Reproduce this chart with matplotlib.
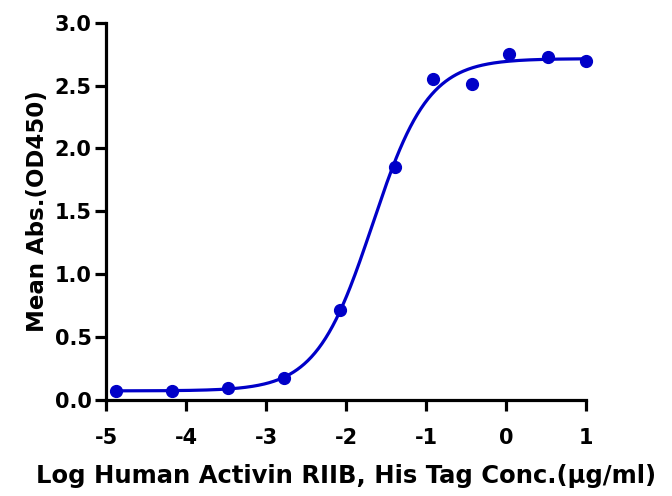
import numpy as np
import matplotlib
matplotlib.use("Agg")
import matplotlib.pyplot as plt
from matplotlib import font_manager as fm

# Data
log_conc = [-4.88, -4.18, -3.48, -2.78, -2.08, -1.39, -0.91, -0.43, 0.04, 0.52, 1.0]
mean_abs = [0.066, 0.066, 0.093, 0.177, 0.716, 1.85, 2.553, 2.51, 2.755, 2.726, 2.694]
x_ticks = [-5, -4, -3, -2, -1, 0, 1]
y_ticks = [0.0, 0.5, 1.0, 1.5, 2.0, 2.5, 3.0]
x_label = "Log Human Activin RIIB, His Tag Conc.(\u00b5g/ml)"
y_label = "Mean Abs.(OD450)"

color = "#0000c8"

x = np.array(log_conc)
y = np.array(mean_abs)


def four_pl(p, xx):
    b, t, c, h = p
    return b + (t - b) / (1.0 + 10.0 ** ((c - xx) * h))


# simple Levenberg-Marquardt fit of a 4-parameter logistic
p = np.array([y.min(), y.max(), -1.7, 1.2])
lam = 1e-3
for _ in range(300):
    r = y - four_pl(p, x)
    J = np.zeros((len(x), 4))
    for k in range(4):
        dp = np.zeros(4)
        dp[k] = 1e-6
        J[:, k] = (four_pl(p + dp, x) - four_pl(p - dp, x)) / 2e-6
    A = J.T @ J
    g = J.T @ r
    step = np.linalg.solve(A + lam * np.diag(np.diag(A)), g)
    pn = p + step
    if np.sum((y - four_pl(pn, x)) ** 2) < np.sum(r ** 2):
        p = pn
        lam *= 0.5
    else:
        lam *= 3

xs = np.linspace(min(log_conc), max(log_conc), 400)


def fp(size):
    return fm.FontProperties(family='DejaVu Sans', weight='bold', size=size)


fig = plt.figure(figsize=(6.72, 4.96), dpi=100)
ax = fig.add_axes([0.158, 0.194, 0.714, 0.760])

ax.plot(xs, four_pl(p, xs), color=color, lw=2.3, clip_on=False)
ax.plot(x, y, 'o', color=color, ms=8.5, clip_on=False)

ax.set_xlim(-5, 1)
ax.set_ylim(0, 3)
ax.set_xticks(x_ticks)
ax.set_xticklabels([str(v) for v in x_ticks], fontproperties=fp(15))
ax.set_yticks(y_ticks)
ax.set_yticklabels([f"{v:.1f}" for v in y_ticks], fontproperties=fp(15))

for s in ['top', 'right']:
    ax.spines[s].set_visible(False)
for s in ['left', 'bottom']:
    ax.spines[s].set_linewidth(2.3)
ax.tick_params(axis='both', width=2.3, length=8)
ax.tick_params(axis='y', pad=2.5)
ax.tick_params(axis='x', pad=12)

ax.set_xlabel(x_label, fontproperties=fp(17.5), labelpad=12)
ax.set_ylabel(y_label, fontproperties=fp(16.5), labelpad=4)

fig.savefig("out.png", dpi=100)
